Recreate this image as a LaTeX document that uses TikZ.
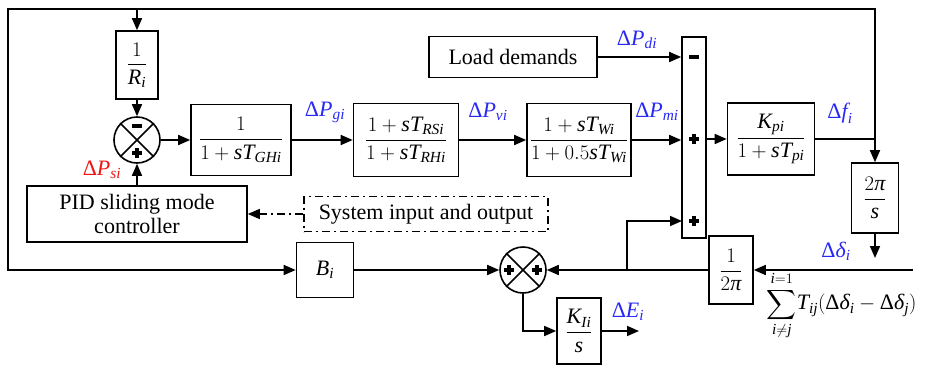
\documentclass[tikz,border=0pt]{standalone}
\usepackage{amsmath}
\usepackage{fontspec}
\setmainfont{Liberation Serif}
\usetikzlibrary{arrows.meta,calc}
\newcommand{\mi}[1]{\textit{#1}}
\newcommand{\Dl}{\textrm{Δ}}
\definecolor{lblue}{RGB}{40,40,245}
\definecolor{lred}{RGB}{240,20,20}
\tikzset{
  pplus/.pic={\draw[line width=3.2pt] (-5,0) -- (5,0) (0,-5) -- (0,5);},
  pminus/.pic={\draw[line width=3.2pt] (-5,0) -- (5,0);}
}
\begin{document}
\begin{tikzpicture}[x=1pt,y=-1pt,line width=1.6pt,
  every node/.style={font=\fontsize{22}{26}\selectfont, inner sep=0pt},
  blk/.style={draw, rectangle, line width=1.6pt, inner sep=0pt},
  sumc/.style={draw, circle, minimum size=46pt, line width=1.6pt},
  arr/.style={-{Triangle[length=12pt,width=10pt]}},
  lblb/.style={text=lblue},
  dashdot/.style={dash pattern=on 8pt off 4pt on 2pt off 4pt, line width=1.4pt}]
\useasboundingbox (0,0) rectangle (928,364);

% blocks
\node[blk, minimum width=42pt, minimum height=68pt] (Ri) at (137,65) {$\dfrac{1}{\mi{R}_{\mi{i}}}$};
\node[sumc] (s1) at (137,140) {};
\node[blk, minimum width=100pt, minimum height=71pt] (G) at (241,140) {$\dfrac{1}{1+\mi{sT}_{\mi{GHi}}}$};
\node[blk, minimum width=105pt, minimum height=73pt] (R) at (406,140) {$\dfrac{1+\mi{sT}_{\mi{RSi}}}{1+\mi{sT}_{\mi{RHi}}}$};
\node[blk, minimum width=104pt, minimum height=73pt] (W) at (579,140) {$\dfrac{1+\mi{sT}_{\mi{Wi}}}{1+0.5\mi{sT}_{\mi{Wi}}}$};
\node[blk, minimum width=24pt, minimum height=201pt] (bar) at (694,137.5) {};
\node[blk, minimum width=87pt, minimum height=72pt] (K) at (771,139) {$\dfrac{\mi{K}_{\mi{pi}}}{1+\mi{sT}_{\mi{pi}}}$};
\node[blk, minimum width=47pt, minimum height=70pt] (TP) at (875,198) {$\dfrac{2\mi{π}}{\mi{s}}$};
\node[blk, minimum width=220pt, minimum height=56pt, align=center] (PID) at (137,214) {PID sliding mode\\[-2pt]controller};
\node[draw, dashdot, minimum width=244pt, minimum height=35pt] (SIO) at (426,214) {System input and output};
\node[blk, minimum width=168pt, minimum height=41pt] (LD) at (513,57) {Load demands};
\node[blk, minimum width=57pt, minimum height=55pt] (Bi) at (325,270) {$\mi{B}_{\mi{i}}$};
\node[sumc] (s2) at (523,270) {};
\node[blk, minimum width=44pt, minimum height=68pt] (I2p) at (731,270) {$\dfrac{1}{2\mi{π}}$};
\node[blk, minimum width=44pt, minimum height=66pt] (KI) at (579,331) {$\dfrac{\mi{K}_{\mi{Ii}}}{\mi{s}}$};

% crosses in summing points
\draw (s1.north west) -- (s1.south east) (s1.north east) -- (s1.south west);
\draw (s2.north west) -- (s2.south east) (s2.north east) -- (s2.south west);

% signs
\pic at (137,126) {pminus};
\pic at (137,153) {pplus};
\pic at (509,270) {pplus};
\pic at (537,270) {pplus};
\pic at (694,57) {pminus};
\pic at (694,139) {pplus};
\pic at (694,221) {pplus};

% coordinates
\coordinate (jf) at (875,139);
\coordinate (tr) at (875,9);
\coordinate (tl) at (8,9);
\coordinate (bl) at (8,270);
\coordinate (tri) at (137,9);
\coordinate (dd) at (875,258);
\coordinate (rin) at (913,270);
\coordinate (br) at (627,270);
\coordinate (b3) at (682,221);
\coordinate (eo) at (639,331);

% connectors
\draw[arr] (jf) -- (tr) -- (tl) -- (bl) -- (Bi.west);
\draw[arr] (tri) -- (Ri.north);
\draw[arr] (Ri) -- (s1);
\draw[arr] (PID) -- (s1);
\draw[arr] (s1) -- (G);
\draw[arr] (G) -- (R);
\draw[arr] (R) -- (W);
\draw[arr] (W.east) -- (W.east -| bar.west);
\draw[arr] (LD.east) -- (LD.east -| bar.west);
\draw[arr] (bar.east |- K.west) -- (K.west);
\draw (K.east) -- (jf);
\draw[arr] (jf) -- (TP.north);
\draw[arr] (TP.south) -- (dd);
\draw[arr] (rin) -- (I2p.east);
\draw[arr] (I2p.west) -- (s2.east);
\draw[arr] (br) |- (b3);
\draw[arr] (Bi.east) -- (s2.west);
\draw[arr] (s2.south) |- (KI.west);
\draw[arr] (KI.east) -- (eo);
\draw[arr, dashdot] (SIO.west) -- (PID.east);

% labels
\node[lblb] (lgi) at (325,112) {$\Dl\mi{P}_{\mi{gi}}$};
\node[lblb] (lvi) at (488,112) {$\Dl\mi{P}_{\mi{vi}}$};
\node[lblb] (lmi) at (657,112) {$\Dl\mi{P}_{\mi{mi}}$};
\node[lblb] (ldi) at (637,40) {$\Dl\mi{P}_{\mi{di}}$};
\node[lblb] (lfi) at (840,113) {$\Dl\mi{f}_{\mi{i}}$};
\node[lblb] (ldel) at (836,251) {$\Dl\mi{δ}_{\mi{i}}$};
\node[lblb] (lei) at (628,312) {$\Dl\mi{E}_{\mi{i}}$};
\node[text=lred] (lsi) at (102,170) {$\Dl\mi{P}_{\mi{si}}$};
\node[anchor=west] (sumx) at (766,306) {$\displaystyle\sum_{\mi{i}\neq\mi{j}}^{\mi{i}=1}\!\mi{T}_{\mi{ij}}(\Dl\mi{δ}_{\mi{i}}-\Dl\mi{δ}_{\mi{j}})$};
\end{tikzpicture}
\end{document}
